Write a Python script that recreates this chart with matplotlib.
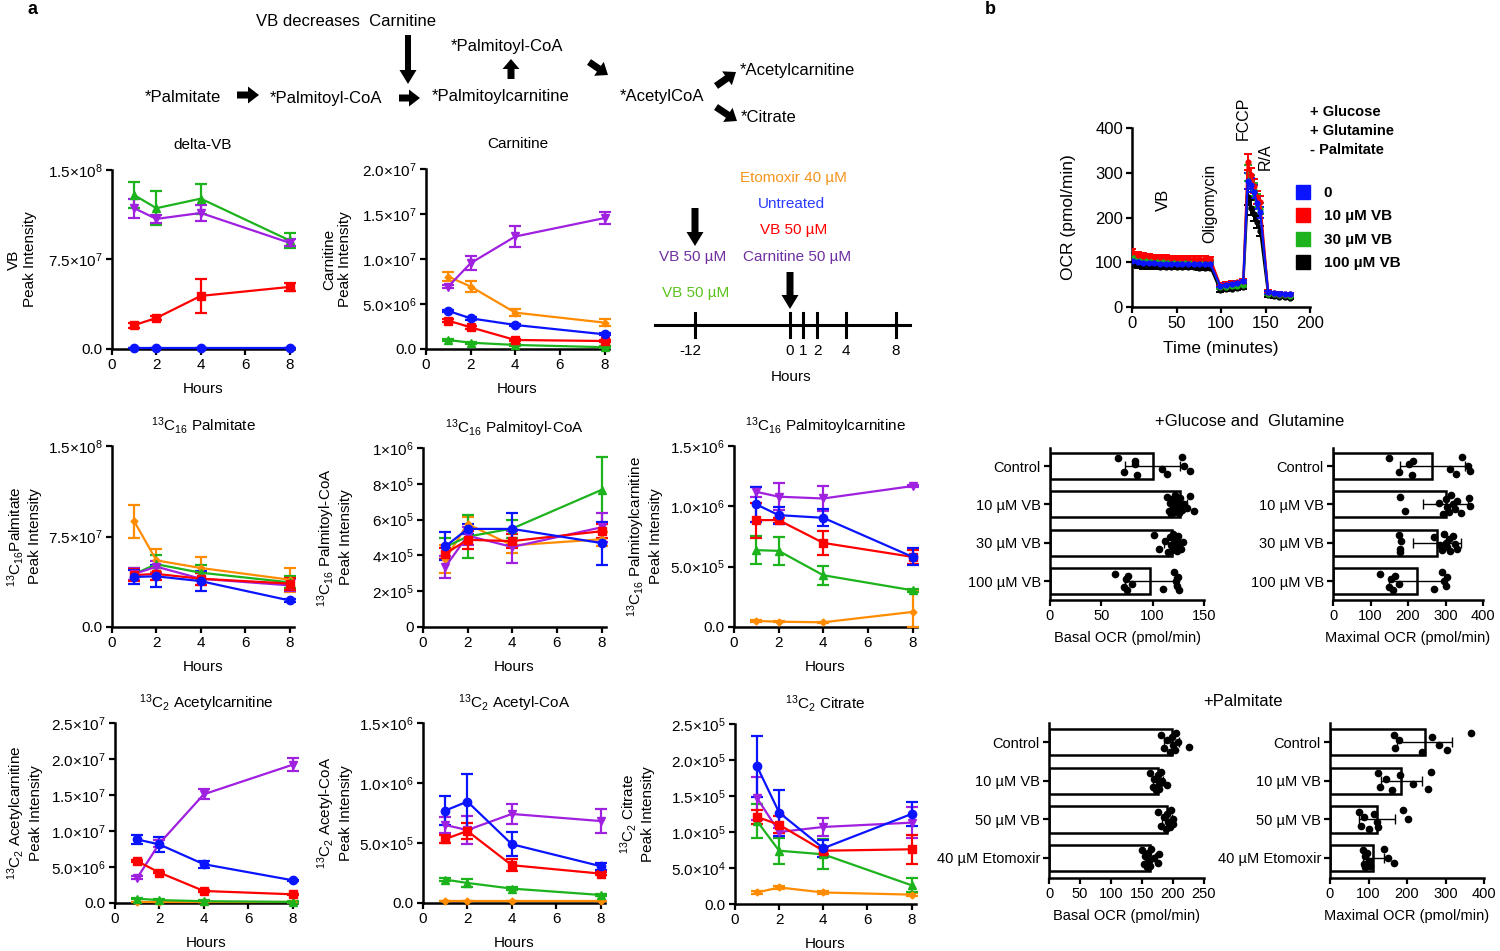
import numpy as np
import matplotlib
matplotlib.use('Agg')
import matplotlib.pyplot as plt
from matplotlib.lines import Line2D

plt.rcParams['font.family'] = ['Liberation Sans', 'DejaVu Sans']
plt.rcParams['mathtext.fontset'] = 'custom'
plt.rcParams['mathtext.rm'] = 'Liberation Sans'
plt.rcParams['mathtext.it'] = 'Liberation Sans:italic'
plt.rcParams['mathtext.bf'] = 'Liberation Sans:bold'
plt.rcParams['axes.linewidth'] = 1.8

W, H = 1500, 951

# ---------------- data: panel a (time course, hours 1,2,4,8) ----------------
hours = [1, 2, 4, 8]

dvb_mean = {'pre': [1.29e8, 1.18e8, 1.26e8, 9.1e7], 'carn': [1.18e8, 1.09e8, 1.14e8, 8.9e7],
            'vb': [2.0e7, 2.6e7, 4.45e7, 5.2e7], 'ctrl': [5e5, 5e5, 5e5, 5e5]}
dvb_sd = {'pre': [1.1e7, 1.4e7, 1.25e7, 6e6], 'carn': [8e6, 3e6, 7e6, 3e6],
          'vb': [2e6, 2e6, 1.4e7, 3.3e6], 'ctrl': [0, 0, 0, 0]}

carn_mean = {'eto': [8.05e6, 6.94e6, 4.04e6, 2.93e6], 'pre': [1.0e6, 7e5, 4.5e5, 2e5],
             'carn': [6.94e6, 9.54e6, 1.25e7, 1.455e7], 'vb': [3.15e6, 2.41e6, 1.0e6, 8.9e5],
             'ctrl': [4.23e6, 3.41e6, 2.67e6, 1.63e6]}
carn_sd = {'eto': [5e5, 6e5, 3.7e5, 4e5], 'pre': [1e5, 1e5, 1e5, 1e5], 'carn': [2e5, 7.4e5, 1.2e6, 6.7e5],
           'vb': [1.5e5, 1.5e5, 1e5, 1e5], 'ctrl': [1.5e5, 1.5e5, 1e5, 1e5]}

palm_mean = {'eto': [8.76e7, 5.52e7, 4.89e7, 3.92e7], 'pre': [4.4e7, 5.2e7, 4.5e7, 3.7e7],
             'carn': [4.4e7, 5.0e7, 4.0e7, 3.45e7], 'vb': [4.3e7, 4.4e7, 4.0e7, 3.6e7],
             'ctrl': [4.15e7, 4.2e7, 3.8e7, 2.2e7]}
palm_sd = {'eto': [1.38e7, 9.7e6, 9e6, 1e7], 'pre': [5e6, 8e6, 6e6, 5e6], 'carn': [5e6, 5e6, 5e6, 5e6],
           'vb': [5e6, 5e6, 5e6, 5e6], 'ctrl': [6e6, 9e6, 8e6, 1.5e6]}

pcoa_mean = {'eto': [3.8e5, 5.75e5, 4.56e5, 4.9e5], 'pre': [4.47e5, 5.05e5, 5.5e5, 7.66e5],
             'carn': [3.36e5, 5.1e5, 4.47e5, 5.57e5], 'vb': [4.1e5, 4.87e5, 4.8e5, 5.35e5],
             'ctrl': [4.5e5, 5.48e5, 5.48e5, 4.69e5]}
pcoa_sd = {'eto': [8e4, 4e4, 4e4, 4e4], 'pre': [5e4, 1.2e5, 5e4, 1.85e5], 'carn': [6e4, 5e4, 9e4, 8e4],
           'vb': [3e4, 5e4, 4e4, 4e4], 'ctrl': [7.8e4, 2.8e4, 8.8e4, 1.2e5]}

pcar_mean = {'eto': [5e4, 4.4e4, 3.9e4, 1.25e5], 'pre': [6.37e5, 6.31e5, 4.29e5, 3.04e5],
             'carn': [1.12e6, 1.08e6, 1.065e6, 1.168e6], 'vb': [8.86e5, 8.86e5, 6.97e5, 5.81e5],
             'ctrl': [1.016e6, 9.27e5, 9.05e5, 5.81e5]}
pcar_sd = {'eto': [5e3, 5e3, 5e3, 1.8e5], 'pre': [1.16e5, 1.16e5, 8e4, 1e4], 'carn': [4e4, 1.1e5, 1e5, 1e4],
           'vb': [1.45e5, 2e4, 9.7e4, 6e4], 'ctrl': [1.45e5, 7e4, 7e4, 7e4]}

acar_mean = {'eto': [1e5, 1e5, 1e5, 1e5], 'pre': [6e5, 4e5, 2.5e5, 1.5e5],
             'carn': [3.49e6, 8.27e6, 1.51e7, 1.92e7], 'vb': [5.81e6, 4.23e6, 1.67e6, 1.21e6],
             'ctrl': [8.83e6, 8.13e6, 5.39e6, 3.16e6]}
acar_sd = {'eto': [0, 0, 0, 0], 'pre': [1e5, 1e5, 1e5, 1e5], 'carn': [2e5, 5e5, 7e5, 9e5],
           'vb': [1e5, 1e5, 1e5, 1e5], 'ctrl': [6e5, 1.1e6, 5e5, 1e5]}

acoa_mean = {'eto': [1.4e4, 1.4e4, 1.4e4, 1.4e4], 'pre': [1.95e5, 1.67e5, 1.2e5, 6.7e4],
             'carn': [6.5e5, 6.08e5, 7.42e5, 6.83e5], 'vb': [5.33e5, 6.0e5, 3.15e5, 2.45e5],
             'ctrl': [7.7e5, 8.45e5, 4.9e5, 3.07e5]}
acoa_sd = {'eto': [0, 0, 0, 0], 'pre': [1e4, 3e4, 1e4, 1e4], 'carn': [7e4, 1.2e5, 8e4, 1e5],
           'vb': [3e4, 7e4, 5e4, 1e4], 'ctrl': [1.2e5, 2.3e5, 1e5, 3e4]}

cit_mean = {'eto': [1.6e4, 2.3e4, 1.6e4, 1.3e4], 'pre': [1.15e5, 7.4e4, 6.9e4, 2.6e4],
            'carn': [1.47e5, 1.0e5, 1.07e5, 1.13e5], 'vb': [1.21e5, 1.1e5, 7.4e4, 7.6e4],
            'ctrl': [1.91e5, 1.27e5, 7.75e4, 1.25e5]}
cit_sd = {'eto': [2e3, 2e3, 2e3, 2e3], 'pre': [2.4e4, 1.8e4, 2.1e4, 1e4], 'carn': [3e4, 5e3, 1.2e4, 2.2e4],
          'vb': [1e4, 1.2e4, 5e3, 2e4], 'ctrl': [4.2e4, 3.2e4, 1.2e4, 1.6e4]}

# ---------------- data: panel b, OCR trace ----------------
ocr_time = [0, 6.3, 12.6, 18.9, 25.2, 31.5, 37.8, 44.1, 50.4, 56.7, 63, 69.3, 75.6, 81.9, 88.2,
            99, 105.5, 112, 118.5, 125,
            130, 133.5, 137, 140.5, 144,
            153, 159, 165.5, 172, 178]
ocr_0 = [102, 100, 99, 98, 98, 97, 97, 97, 96, 96, 96, 95, 95, 95, 95,
         48, 50, 52, 54, 57, 282, 272, 258, 232, 212, 33, 31, 30, 29, 28]
ocr_10 = [122, 116, 114, 113, 112, 111, 111, 110, 110, 109, 109, 108, 108, 108, 107,
          50, 52, 53, 55, 58, 325, 295, 270, 245, 235, 34, 31, 30, 29, 28]
ocr_30 = [114, 110, 108, 106, 105, 105, 104, 104, 103, 103, 103, 102, 102, 102, 101,
          44, 45, 47, 48, 50, 300, 280, 262, 238, 220, 30, 28, 27, 26, 25]
ocr_100 = [96, 93, 92, 91, 91, 90, 90, 90, 89, 89, 89, 89, 88, 88, 88,
           38, 40, 41, 43, 45, 245, 222, 208, 190, 170, 26, 24, 23, 22, 21]
ocr_err = [7, 6, 6, 5, 5, 5, 5, 5, 5, 5, 5, 5, 5, 5, 5,
           4, 4, 4, 4, 4, 18, 16, 15, 14, 12, 3, 3, 3, 3, 3]
ocr_labels = ['0', '10 \u00b5M VB', '30 \u00b5M VB', '100 \u00b5M VB']

# ---------------- data: panel b, bar charts ----------------
glc_cats = ['Control', '10 \u00b5M VB', '30 \u00b5M VB', '100 \u00b5M VB']
glc_basal = [100, 127, 119, 97]
glc_basal_sd = [27, 6, 8, 24]
glc_basal_pts = [[66, 72, 83, 85, 83, 109, 114, 129, 131, 136],
                 [114, 116, 117, 118, 119, 120, 121, 122, 123, 124, 125, 126, 127, 128, 129, 131, 133, 136, 140],
                 [101, 106, 112, 115, 117, 118, 119, 120, 121, 122, 123, 124, 125, 126, 128, 130],
                 [63, 72, 74, 75, 76, 80, 110, 121, 123, 124, 125, 126]]
glc_max = [265, 300, 277, 225]
glc_max_sd = [87, 60, 64, 75]
glc_max_pts = [[149, 176, 203, 210, 214, 311, 329, 344, 360, 365],
               [178, 192, 283, 293, 300, 305, 310, 315, 320, 325, 330, 340, 362, 365],
               [176, 178, 180, 178, 268, 285, 290, 295, 300, 305, 310, 312, 320, 325, 330],
               [125, 150, 155, 160, 165, 175, 270, 290, 295, 300, 305]]

pal_cats = ['Control', '10 \u00b5M VB', '50 \u00b5M VB', '40 \u00b5M Etomoxir']
pal_basal = [198, 176, 190, 163]
pal_basal_sd = [12, 8, 8, 8]
pal_basal_pts = [[180, 185, 190, 195, 198, 200, 203, 205, 208, 225],
                 [163, 168, 170, 172, 175, 177, 178, 180, 183, 190],
                 [175, 180, 185, 188, 190, 192, 195, 197, 200, 200],
                 [150, 153, 155, 158, 160, 162, 163, 165, 170, 175, 178]]
pal_max = [246, 185, 123, 112]
pal_max_sd = [72, 53, 47, 27]
pal_max_pts = [[165, 170, 180, 238, 265, 283, 305, 367],
               [125, 130, 145, 160, 182, 215, 255, 262],
               [75, 80, 88, 100, 115, 122, 125, 190, 202],
               [85, 88, 90, 92, 95, 100, 105, 140, 150, 165]]

# ---------------- styles ----------------
series_order = ['eto', 'pre', 'carn', 'vb', 'ctrl']
series_color = {'eto': '#FF8C00', 'pre': '#1DB31D', 'carn': '#A020E0', 'vb': '#FF0000', 'ctrl': '#0A14FF'}
series_marker = {'eto': 'D', 'pre': '^', 'carn': 'v', 'vb': 's', 'ctrl': 'o'}
series_ms = {'eto': 3.5, 'pre': 5.5, 'carn': 5.5, 'vb': 6, 'ctrl': 6}
ocr_colors = ['#0A14FF', '#FF0000', '#1DB31D', '#000000']
jitter = [-0.2, 0.16, -0.05, 0.24, -0.14, 0.07, 0.2, -0.24, 0.0, 0.12, -0.1, 0.22,
          -0.18, 0.04, 0.15, -0.02, 0.09, -0.21, 0.18]

fig = plt.figure(figsize=(W / 100, H / 100), dpi=100)


def px_axes(l, t, r, b):
    return fig.add_axes([l / W, 1 - b / H, (r - l) / W, (b - t) / H])


def prism(ax, fs=11):
    ax.spines['top'].set_visible(False)
    ax.spines['right'].set_visible(False)
    ax.tick_params(direction='out', length=4.5, width=1.6, labelsize=fs, pad=2)


def sci(v, nd):
    if v == 0:
        return '0.0' if nd else '0'
    e = int(np.floor(np.log10(v) + 1e-9))
    return f'{v / 10 ** e:.{nd}f}\u00d710$^{{{e}}}$'


def line_panel(box, title, ylabel, means, sds, yticks, nd, ylab_px=72, tpad=11):
    l, t, r, b = box
    ax = px_axes(l, t, r, b)
    prism(ax)
    for key in series_order:
        if key not in means:
            continue
        m = np.array(means[key], dtype=float)
        s = np.array(sds[key], dtype=float)
        ax.errorbar(hours, m, yerr=[np.minimum(s, m), s], color=series_color[key],
                    marker=series_marker[key], ms=series_ms[key], lw=1.6, elinewidth=1.6,
                    capsize=4, capthick=1.6, clip_on=False, zorder=3)
    ax.set_xlim(0, 8.2)
    ax.set_xticks([0, 2, 4, 6, 8])
    ax.set_ylim(0, yticks[-1])
    ax.set_yticks(yticks)
    ax.set_yticklabels([sci(v, nd) for v in yticks])
    ax.set_title(title, fontsize=11, pad=tpad)
    ax.set_xlabel('Hours', fontsize=11, va='top')
    ax.xaxis.set_label_coords(0.5, -33 / (b - t))
    ax.set_ylabel(ylabel, fontsize=11, linespacing=1.15)
    ax.yaxis.set_label_coords(-ylab_px / (r - l), 0.5)
    return ax


def bar_panel(box, cats, means, sds, pts, xticks, xlabel, ylim):
    l, t, r, b = box
    ax = px_axes(l, t, r, b)
    prism(ax, fs=10.5)
    pos = np.arange(len(cats))
    ax.barh(pos, means, height=0.68, color='white', edgecolor='black', lw=1.8, zorder=1)
    ax.errorbar(means, pos, xerr=sds, fmt='none', ecolor='black', elinewidth=1,
                capsize=3.5, capthick=1, zorder=2)
    for i, p in enumerate(pts):
        ax.plot(p, [pos[i] + jitter[j % len(jitter)] for j in range(len(p))], 'o',
                color='black', ms=4.5, ls='none', zorder=3, clip_on=False)
    ax.set_yticks(pos)
    ax.set_yticklabels(cats)
    ax.set_ylim(*ylim)
    ax.set_xlim(0, xticks[-1])
    ax.set_xticks(xticks)
    ax.set_xlabel(xlabel, fontsize=10.5, va='top')
    ax.xaxis.set_label_coords(0.5, -31 / (b - t))
    return ax


sub = lambda n: r'$^{13}$C$_{' + n + '}$'

line_panel((112, 170, 294, 349), 'delta-VB', 'VB\nPeak Intensity', dvb_mean, dvb_sd,
           [0, 7.5e7, 1.5e8], 1, 75, tpad=15)
line_panel((426, 169, 609, 349), 'Carnitine', 'Carnitine\nPeak Intensity', carn_mean, carn_sd,
           [0, 5e6, 1e7, 1.5e7, 2e7], 1, 74, tpad=15)
line_panel((112, 446, 294, 627), sub('16') + ' Palmitate', sub('16') + 'Palmitate\nPeak Intensity',
           palm_mean, palm_sd, [0, 7.5e7, 1.5e8], 1, 70)
line_panel((423, 448, 606, 627), sub('16') + ' Palmitoyl-CoA', sub('16') + ' Palmitoyl-CoA\nPeak Intensity',
           pcoa_mean, pcoa_sd, [0, 2e5, 4e5, 6e5, 8e5, 1e6], 0, 70)
line_panel((734, 446, 917, 627), sub('16') + ' Palmitoylcarnitine',
           sub('16') + ' Palmitoylcarnitine\nPeak Intensity',
           pcar_mean, pcar_sd, [0, 5e5, 1e6, 1.5e6], 1, 71)
line_panel((115, 723, 297, 903), sub('2') + ' Acetylcarnitine', sub('2') + ' Acetylcarnitine\nPeak Intensity',
           acar_mean, acar_sd, [0, 5e6, 1e7, 1.5e7, 2e7, 2.5e7], 1, 72)
line_panel((423, 723, 605, 903), sub('2') + ' Acetyl-CoA', sub('2') + ' Acetyl-CoA\nPeak Intensity',
           acoa_mean, acoa_sd, [0, 5e5, 1e6, 1.5e6], 1, 70)
line_panel((735, 724, 916, 904), sub('2') + ' Citrate', sub('2') + ' Citrate\nPeak Intensity',
           cit_mean, cit_sd, [0, 5e4, 1e5, 1.5e5, 2e5, 2.5e5], 1, 80)

# ---------------- OCR trace ----------------
ax_ocr = px_axes(1132, 128, 1310, 307)
prism(ax_ocr, fs=12)
for vals, c in list(zip([ocr_0, ocr_10, ocr_30, ocr_100], ocr_colors))[::-1]:
    ax_ocr.errorbar(ocr_time, vals, yerr=ocr_err, color=c, marker='o', ms=3.5, lw=1.6,
                    elinewidth=1.4, capsize=3, capthick=1.4, zorder=3)
ax_ocr.set_xlim(0, 200)
ax_ocr.set_ylim(0, 400)
ax_ocr.set_xticks([0, 50, 100, 150, 200])
ax_ocr.set_yticks([0, 100, 200, 300, 400])
ax_ocr.set_xlabel('Time (minutes)', fontsize=12.5, va='top')
ax_ocr.xaxis.set_label_coords(0.5, -34 / 179)
ax_ocr.set_ylabel('OCR (pmol/min)', fontsize=12.5)
ax_ocr.yaxis.set_label_coords(-56 / 178, 0.5)
handles = [Line2D([], [], marker='s', ls='none', color=c, ms=10.5) for c in ocr_colors]
ax_ocr.legend(handles, ocr_labels, loc='upper left', bbox_to_anchor=(1296 / W, 1 - 186 / H),
              bbox_transform=fig.transFigure, frameon=False, borderpad=0, borderaxespad=0,
              handlelength=0.9, handletextpad=0.9, labelspacing=0.62,
              prop={'weight': 'bold', 'size': 11})

# ---------------- bar charts ----------------
bar_panel((1050, 448, 1204, 600), glc_cats, glc_basal, glc_basal_sd, glc_basal_pts,
          [0, 50, 100, 150], 'Basal OCR (pmol/min)', (3.49, -0.47))
bar_panel((1333, 448, 1483, 600), glc_cats, glc_max, glc_max_sd, glc_max_pts,
          [0, 100, 200, 300, 400], 'Maximal OCR (pmol/min)', (3.49, -0.47))
bar_panel((1049, 723, 1204, 878), pal_cats, pal_basal, pal_basal_sd, pal_basal_pts,
          [0, 50, 100, 150, 200, 250], 'Basal OCR (pmol/min)', (3.52, -0.5))
bar_panel((1330, 723, 1484, 878), pal_cats, pal_max, pal_max_sd, pal_max_pts,
          [0, 100, 200, 300, 400], 'Maximal OCR (pmol/min)', (3.52, -0.5))

# ---------------- overlay: scheme, timeline, annotations (pixel coordinates) ----------------
ov = fig.add_axes([0, 0, 1, 1], zorder=10)
ov.set_xlim(0, W)
ov.set_ylim(H, 0)
ov.axis('off')
ov.patch.set_visible(False)


def blk_arrow(x0, y0, x1, y1, w=6.5, hw=17, hl=12):
    ov.arrow(x0, y0, x1 - x0, y1 - y0, width=w, head_width=hw, head_length=hl,
             length_includes_head=True, fc='black', ec='black', lw=0)


ov.text(32, 9, 'a', fontsize=13, fontweight='bold', ha='center', va='center')
ov.text(990, 9, 'b', fontsize=13, fontweight='bold', ha='center', va='center')

fs_s = 12
ov.text(256, 21, 'VB decreases  Carnitine', fontsize=fs_s, va='center')
ov.text(145, 97, '*Palmitate', fontsize=fs_s, va='center')
ov.text(270, 98, '*Palmitoyl-CoA', fontsize=fs_s, va='center')
ov.text(432, 97, '*Palmitoylcarnitine', fontsize=fs_s, va='center')
ov.text(451, 47, '*Palmitoyl-CoA', fontsize=fs_s, va='center')
ov.text(620, 96, '*AcetylCoA', fontsize=fs_s, va='center')
ov.text(740, 70, '*Acetylcarnitine', fontsize=fs_s, va='center')
ov.text(741, 118, '*Citrate', fontsize=fs_s, va='center')
blk_arrow(408, 35, 408, 84, w=6, hw=17, hl=14)
blk_arrow(237, 95, 259, 95, w=7, hw=17, hl=11)
blk_arrow(399, 98, 420, 98, w=7, hw=17, hl=11)
blk_arrow(511, 79, 511, 59, w=7, hw=17, hl=10)
blk_arrow(589, 62, 608, 75, w=7, hw=17, hl=11)
blk_arrow(716, 86, 736, 72, w=7, hw=17, hl=11)
blk_arrow(716, 107, 737, 121, w=7, hw=17, hl=11)

# timeline
tl_labels = ['-12', '0', '1', '2', '4', '8']
tl_pos = [695, 790, 803, 817, 846, 896]
ov.plot([655, 910], [325, 325], color='black', lw=2.2)
for p, lab in zip(tl_pos, tl_labels):
    ov.plot([p, p], [313, 337], color='black', lw=2.2)
    ov.text(p - (5 if lab == '-12' else 0), 351, lab, fontsize=11, ha='center', va='center')
ov.text(791, 377, 'Hours', fontsize=11, ha='center', va='center')
blk_arrow(695, 208, 695, 246, w=7, hw=17, hl=14)
blk_arrow(790, 272, 790, 309, w=7, hw=17, hl=14)
ov.text(793, 178, 'Etomoxir 40 \u00b5M', fontsize=11, color='#F7941D', ha='center', va='center')
ov.text(791, 204, 'Untreated', fontsize=11, color='#2B3BFF', ha='center', va='center')
ov.text(794, 230, 'VB 50 \u00b5M', fontsize=11, color='#FF0000', ha='center', va='center')
ov.text(693, 257, 'VB 50 \u00b5M', fontsize=11, color='#7030A0', ha='center', va='center')
ov.text(797, 257, 'Carnitine 50 \u00b5M', fontsize=11, color='#7030A0', ha='center', va='center')
ov.text(696, 293, 'VB 50 \u00b5M', fontsize=11, color='#5DC21E', ha='center', va='center')

# OCR annotations
ov.text(1163, 200, 'VB', fontsize=12, rotation=90, ha='center', va='center')
ov.text(1210, 203, 'Oligomycin', fontsize=11.5, rotation=90, ha='center', va='center')
ov.text(1243, 118, 'FCCP', fontsize=11.5, rotation=90, ha='center', va='center')
ov.text(1265, 157, 'R/A', fontsize=11.5, rotation=90, ha='center', va='center')
ov.text(1310, 112, '+ Glucose', fontsize=10.5, fontweight='bold', va='center')
ov.text(1310, 131, '+ Glutamine', fontsize=10.5, fontweight='bold', va='center')
ov.text(1310, 150, '- Palmitate', fontsize=10.5, fontweight='bold', va='center')

ov.text(1250, 422, '+Glucose and  Glutamine', fontsize=12, ha='center', va='center')
ov.text(1243, 702, '+Palmitate', fontsize=12, ha='center', va='center')

fig.savefig('out.png', dpi=100)
